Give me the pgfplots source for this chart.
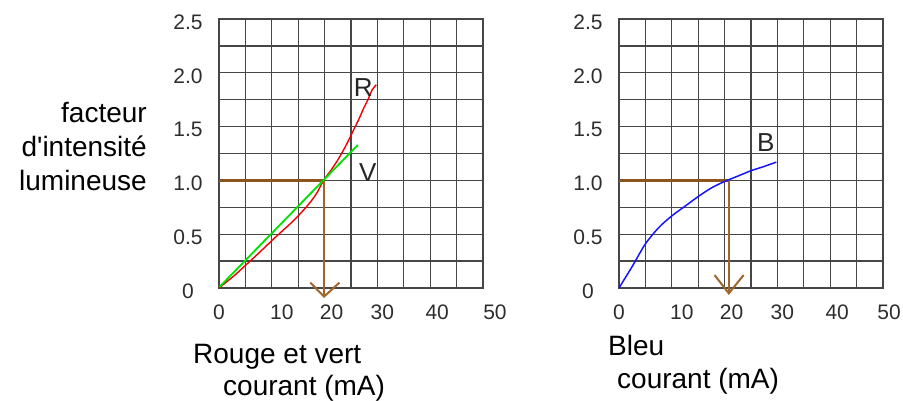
\documentclass[border=0pt]{standalone}
\usepackage{pgfplots}
\pgfplotsset{compat=1.18}
\usepackage{fontspec}
\setmainfont{Liberation Sans}
\definecolor{brownH}{RGB}{140,85,30}
\definecolor{brownV}{RGB}{160,100,45}
\definecolor{tickgray}{RGB}{45,45,45}
\definecolor{gridc}{RGB}{70,70,70}
\definecolor{myred}{RGB}{240,0,0}
\definecolor{mygreen}{RGB}{0,225,0}
\definecolor{myblue}{RGB}{20,20,255}
\pgfplotsset{
  myaxis/.style={
    scale only axis, width=264bp, height=269bp,
    xmin=0,xmax=50,ymin=0,ymax=2.5,
    xtick={0,10,20,30,40,50}, minor xtick={5,15,25,35,45},
    ytick={0,0.5,1,1.5,2,2.5}, minor ytick={0.25,0.75,1.25,1.75,2.25},
    yticklabels={0,0.5,1.0,1.5,2.0,2.5},
    grid=both,
    major grid style={gridc,line width=1.3bp},
    minor grid style={gridc,line width=1.3bp},
    axis line style={gridc,line width=1.3bp},
    major tick length=0pt, minor tick length=0pt,
    tick label style={font=\fontsize{21bp}{24bp}\selectfont, text=tickgray, inner sep=0pt},
    xticklabel style={anchor=north, yshift=-17bp},
    yticklabel style={anchor=center, xshift=-31bp, yshift=-3bp},
    clip=false,
  }
}
\begin{document}
\begin{tikzpicture}
\path[use as bounding box] (0,0) rectangle (903bp,-401bp);

% left axis
\begin{axis}[myaxis, at={(219bp,-288bp)}, anchor=south west,
  xticklabels={0,\hspace*{20bp}10,\hspace*{14bp}20,\hspace*{10bp}30,\hspace*{14bp}40,\hspace*{24bp}50}]
\addplot[brownH, line width=3bp] coordinates {(0,1.0) (19.9,1.0)};
\addplot[brownV, line width=1.8bp] coordinates {(19.9,1.0) (19.9,-0.08)};
\addplot[brownV, line width=2bp] coordinates {(17.3,0.05) (19.9,-0.08) (22.8,0.05)};
\addplot[myred, line width=1.4bp, smooth] coordinates {
(0,0) (1,0.04) (3,0.12) (5,0.21) (7,0.30) (10,0.44) (12,0.53) (14,0.62) (15,0.67)
(17,0.78) (18.5,0.88) (19.8,1.0) (21,1.08) (22.5,1.19) (24,1.32) (25.4,1.46)
(26.5,1.57) (27.3,1.66) (28.2,1.75) (29,1.84) (29.8,1.89)};
\addplot[mygreen, line width=1.8bp] coordinates {(0.1,0.01) (26.3,1.33)};
\node[font=\fontsize{26bp}{30bp}\selectfont, text=black!85] at (axis cs:27.3,1.86) {R};
\node[font=\fontsize{26bp}{30bp}\selectfont, text=black!85] at (axis cs:28.2,1.07) {V};
\end{axis}

% right axis
\begin{axis}[myaxis, at={(619bp,-288bp)}, anchor=south west,
  xticklabels={0,\hspace*{20bp}10,\hspace*{14bp}20,\hspace*{10bp}30,\hspace*{14bp}40,\hspace*{12bp}50}]
\addplot[brownH, line width=3bp] coordinates {(0,1.0) (20.8,1.0)};
\addplot[brownV, line width=1.8bp] coordinates {(20.8,1.0) (20.8,-0.05)};
\addplot[brownV, line width=2bp] coordinates {(18.1,0.12) (20.8,-0.05) (23.6,0.12)};
\addplot[myblue, line width=1.5bp, smooth] coordinates {
(0,0) (1,0.08) (2.5,0.2) (5,0.41) (7.5,0.56) (10,0.67) (12.5,0.76) (15,0.85)
(17.5,0.93) (20,0.99) (22.5,1.04) (25,1.09) (27.5,1.13) (29.8,1.17)};
\node[font=\fontsize{26bp}{30bp}\selectfont, text=black!85] at (axis cs:27.8,1.35) {B};
\end{axis}

% labels
\begin{scope}[every node/.style={inner sep=0pt, font=\fontsize{28bp}{34bp}\selectfont}]
\node[anchor=base east] at (147bp,-122bp) {facteur};
\node[anchor=base east] at (147bp,-156bp) {d\textquotesingle intensité};
\node[anchor=base east] at (147bp,-190bp) {lumineuse};
\node[anchor=base west] at (193bp,-363bp) {Rouge et vert};
\node[anchor=base west] at (223bp,-395bp) {courant (mA)};
\node[anchor=base west] at (608bp,-355bp) {Bleu};
\node[anchor=base west] at (617bp,-388bp) {courant (mA)};
\end{scope}
\end{tikzpicture}
\end{document}
